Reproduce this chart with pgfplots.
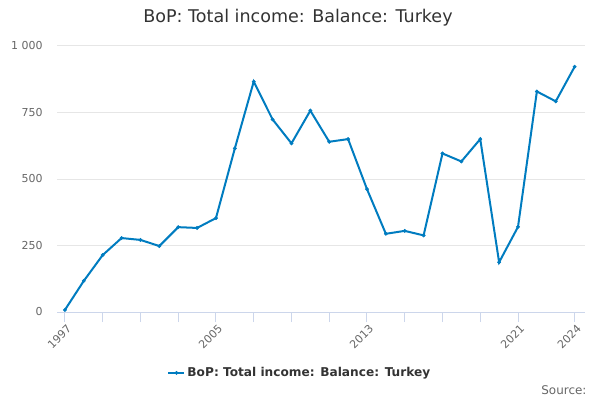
\documentclass[border=0pt]{standalone}
\usepackage{pgfplots}
\pgfplotsset{compat=1.18}
\usepackage{fontspec}
\setmainfont{DejaVu Sans}
\definecolor{linec}{RGB}{0,124,192}
\definecolor{gridc}{RGB}{230,230,230}
\definecolor{axisc}{RGB}{204,214,235}
\definecolor{tickc}{RGB}{102,102,102}
\definecolor{textc}{RGB}{51,51,51}
\begin{document}
\begin{tikzpicture}[x=1bp,y=1bp]
\path[use as bounding box] (0,0) rectangle (600,400);
\node[font=\fontsize{17.6}{20}\selectfont, text=textc] at (298,382) {BoP: Total income: Balance: Turkey};
\node[font=\fontsize{12}{14}\selectfont, text=tickc, anchor=east] at (590,10) {Source:};
\begin{axis}[
  at={(57bp,88bp)}, anchor=south west,
  scale only axis, width=528bp, height=266bp,
  xmin=1996.58, xmax=2024.55, ymin=0, ymax=1000,
  axis lines*=left,
  y axis line style={draw=none},
  x axis line style={draw=axisc, line width=1bp},
  ytick={0,250,500,750,1000},
  ymajorgrids, grid style={draw=gridc, line width=1bp},
  ytick style={draw=none},
  xtick={1997,2005,2013,2021,2024},
  minor xtick={1999,2001,2003,2007,2009,2011,2015,2017,2019},
  tick align=outside,
  major tick length=10bp, minor tick length=10bp,
  xtick style={draw=axisc, line width=1bp},
  /pgf/number format/assume math mode=true,
  /pgf/number format/1000 sep={\ },
  yticklabel style={font=\fontsize{11}{13}\selectfont, text=tickc, xshift=-1bp},
  xticklabel style={font=\fontsize{11}{13}\selectfont, text=tickc, rotate=45, anchor=north east, xshift=3bp, yshift=1bp, /pgf/number format/1000 sep={}},
  legend style={draw=none, fill=none, at={(0.46,-0.229)}, anchor=center,
    font=\bfseries\fontsize{12.2}{15}\selectfont, text=textc},
  legend image code/.code={\draw[#1, mark repeat=2, mark phase=2] plot coordinates {(0bp,0bp) (8bp,0bp) (16bp,0bp)};},
  legend cell align=left,
  clip=false,
]
\addplot[color=linec, line width=2bp, mark=*, mark size=1.7bp, mark options={fill=linec, draw=linec, line width=0.5bp}] coordinates {
(1997,8) (1998,117) (1999,214) (2000,278) (2001,271) (2002,248) (2003,319) (2004,316)
(2005,353) (2006,615) (2007,866) (2008,724) (2009,634) (2010,757) (2011,640) (2012,650)
(2013,462) (2014,294) (2015,305) (2016,288) (2017,596) (2018,566) (2019,650) (2020,187)
(2021,320) (2022,829) (2023,792) (2024,922)
};
\addlegendentry{BoP: Total income: Balance: Turkey}
\end{axis}
\end{tikzpicture}
\end{document}
